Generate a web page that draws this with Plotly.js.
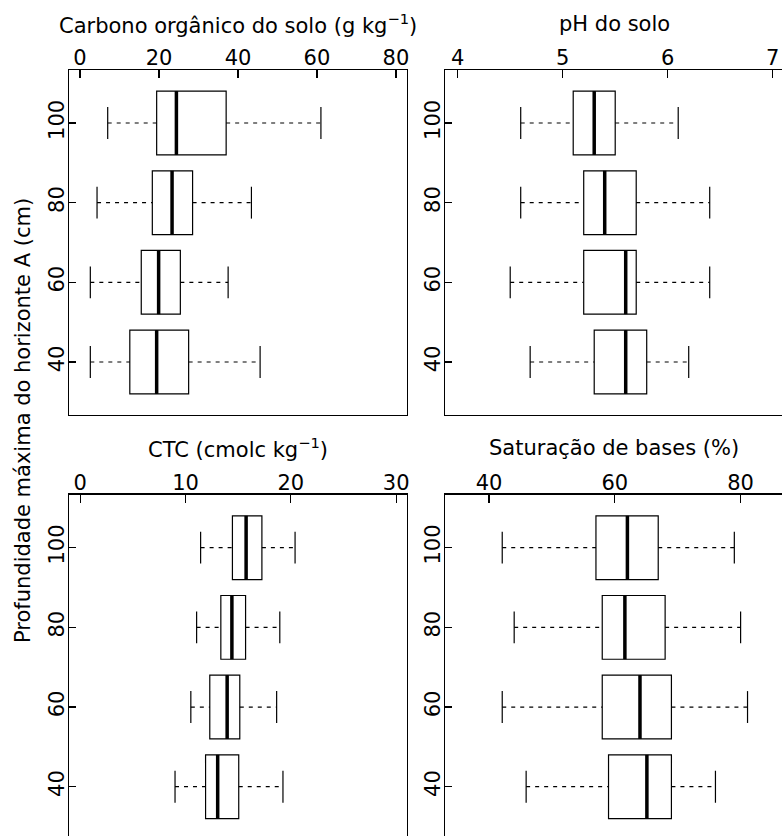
<!DOCTYPE html>
<html>
<head>
<meta charset="utf-8">
<script src="https://cdn.plot.ly/plotly-3.0.1.min.js"></script>
<style>
html,body{margin:0;padding:0;overflow:hidden;background:#fff;}
#chart{width:790px;height:850px;}
</style>
</head>
<body>
<div id="chart"></div>
<script>
// Depth categories (bottom to top)
const depthLabels = ['40', '60', '80', '100'];
const depthPos = [1, 2, 3, 4];

// Carbono orgânico do solo (g kg-1)
const carbonLow  = [2.6, 2.6, 4.3, 7.0];
const carbonQ1   = [12.6, 15.5, 18.3, 19.4];
const carbonMed  = [19.4, 19.9, 23.3, 24.4];
const carbonQ3   = [27.5, 25.4, 28.5, 37.0];
const carbonHigh = [45.6, 37.5, 43.4, 61.0];
const carbonTicks = [0, 20, 40, 60, 80];

// pH do solo
const phLow  = [4.69, 4.50, 4.60, 4.60];
const phQ1   = [5.30, 5.20, 5.20, 5.10];
const phMed  = [5.60, 5.60, 5.40, 5.30];
const phQ3   = [5.80, 5.70, 5.70, 5.50];
const phHigh = [6.20, 6.40, 6.40, 6.10];
const phTicks = [4, 5, 6, 7];

// CTC (cmolc kg-1)
const ctcLow  = [9.0, 10.5, 11.05, 11.43];
const ctcQ1   = [11.9, 12.3, 13.35, 14.45];
const ctcMed  = [13.05, 13.95, 14.4, 15.75];
const ctcQ3   = [15.05, 15.15, 15.7, 17.25];
const ctcHigh = [19.25, 18.65, 18.95, 20.4];
const ctcTicks = [0, 10, 20, 30];

// Saturação de bases (%)
const satLow  = [45.9, 42.1, 44.0, 42.1];
const satQ1   = [59.0, 58.0, 58.0, 57.0];
const satMed  = [65.1, 64.0, 61.6, 62.0];
const satQ3   = [69.0, 69.0, 68.0, 66.9];
const satHigh = [76.0, 81.1, 80.0, 79.0];
const satTicks = [40, 60, 80];

const W = 790, H = 850;
const FONT = {family: 'DejaVu Sans, sans-serif', size: 21, color: '#000'};
const BOXW = 0.8, CAPW = 0.2, MEDW = 0.4;

function panelTraces(low, q1, med, q3, high, xa, ya) {
  const traces = [];
  traces.push({
    type: 'box', orientation: 'h', y: depthPos,
    q1: q1, median: med, q3: q3, lowerfence: q1, upperfence: q3,
    width: BOXW, whiskerwidth: 0, fillcolor: '#fff',
    line: {color: '#000', width: 1.2}, boxpoints: false,
    xaxis: xa, yaxis: ya, hoverinfo: 'skip', showlegend: false
  });
  // dashed whiskers
  const wx = [], wy = [];
  depthPos.forEach((p, i) => {
    wx.push(low[i], q1[i], null, q3[i], high[i], null);
    wy.push(p, p, null, p, p, null);
  });
  traces.push({type: 'scatter', mode: 'lines', x: wx, y: wy,
    line: {color: '#000', width: 1.2, dash: '4px,5px'},
    xaxis: xa, yaxis: ya, hoverinfo: 'skip', showlegend: false});
  // staples
  const cx = [], cy = [];
  depthPos.forEach((p, i) => {
    cx.push(low[i], low[i], null, high[i], high[i], null);
    cy.push(p - CAPW, p + CAPW, null, p - CAPW, p + CAPW, null);
  });
  traces.push({type: 'scatter', mode: 'lines', x: cx, y: cy,
    line: {color: '#000', width: 1.2},
    xaxis: xa, yaxis: ya, hoverinfo: 'skip', showlegend: false});
  // thick medians
  const mx = [], my = [];
  depthPos.forEach((p, i) => {
    mx.push(med[i], med[i], null);
    my.push(p - MEDW, p + MEDW, null);
  });
  traces.push({type: 'scatter', mode: 'lines', x: mx, y: my,
    line: {color: '#000', width: 3.5},
    xaxis: xa, yaxis: ya, hoverinfo: 'skip', showlegend: false});
  return traces;
}

const data = [].concat(
  panelTraces(carbonLow, carbonQ1, carbonMed, carbonQ3, carbonHigh, 'x', 'y'),
  panelTraces(phLow, phQ1, phMed, phQ3, phHigh, 'x2', 'y2'),
  panelTraces(ctcLow, ctcQ1, ctcMed, ctcQ3, ctcHigh, 'x3', 'y3'),
  panelTraces(satLow, satQ1, satMed, satQ3, satHigh, 'x4', 'y4')
);

const leftDom = [69 / W, 407 / W];
const rightDom = [445 / W, 783 / W];
const topDom = [1 - 415 / H, 1 - 70 / H];
const botDom = [1 - 839.7 / H, 1 - 494.7 / H];

function xax(dom, range, ticks, anchor) {
  return {domain: dom, range: range, side: 'top', anchor: anchor,
    tickvals: ticks, ticktext: ticks.map(String),
    ticks: 'inside', ticklen: 8, tickwidth: 1.2, tickcolor: '#000',
    showline: true, mirror: true, linecolor: '#000', linewidth: 1.3,
    showgrid: false, zeroline: false, tickfont: FONT, ticklabelstandoff: -5, fixedrange: true};
}
function yax(dom, anchor) {
  return {domain: dom, range: [0.335, 4.665], anchor: anchor,
    tickvals: depthPos, ticktext: depthLabels, tickangle: -90,
    ticks: 'inside', ticklen: 7, tickwidth: 1.2, tickcolor: '#000',
    showline: true, mirror: true, linecolor: '#000', linewidth: 1.3,
    showgrid: false, zeroline: false, tickfont: FONT, ticklabelstandoff: -5, fixedrange: true};
}

const layout = {
  width: W, height: H,
  margin: {l: 0, r: 0, t: 0, b: 0},
  paper_bgcolor: '#fff', plot_bgcolor: '#fff',
  font: FONT, showlegend: false,
  xaxis: xax(leftDom, [-2.8, 82.8], carbonTicks, 'y'),
  yaxis: yax(topDom, 'x'),
  xaxis2: xax(rightDom, [3.879, 7.098], phTicks, 'y2'),
  yaxis2: yax(topDom, 'x2'),
  xaxis3: xax(leftDom, [-1.07, 31.03], ctcTicks, 'y3'),
  yaxis3: yax(botDom, 'x3'),
  xaxis4: xax(rightDom, [33.0, 86.74], satTicks, 'y4'),
  yaxis4: yax(botDom, 'x4'),
  annotations: [
    {text: 'Carbono orgânico do solo (g kg<sup>−1</sup>)', x: 238 / W, y: 1 - 24 / H, xref: 'paper', yref: 'paper', showarrow: false, font: FONT, xanchor: 'center', yanchor: 'middle'},
    {text: 'pH do solo', x: 614 / W, y: 1 - 24 / H, xref: 'paper', yref: 'paper', showarrow: false, font: FONT, xanchor: 'center', yanchor: 'middle'},
    {text: 'CTC (cmolc kg<sup>−1</sup>)', x: 238 / W, y: 1 - 448 / H, xref: 'paper', yref: 'paper', showarrow: false, font: FONT, xanchor: 'center', yanchor: 'middle'},
    {text: 'Saturação de bases (%)', x: 614 / W, y: 1 - 448 / H, xref: 'paper', yref: 'paper', showarrow: false, font: FONT, xanchor: 'center', yanchor: 'middle'},
    {text: 'Profundidade máxima do horizonte A (cm)', x: 23 / W, y: 1 - 421 / H, xref: 'paper', yref: 'paper', showarrow: false, font: FONT, textangle: -90, xanchor: 'center', yanchor: 'middle'}
  ]
};

Plotly.newPlot('chart', data, layout, {displayModeBar: false, staticPlot: true});
</script>
</body>
</html>
